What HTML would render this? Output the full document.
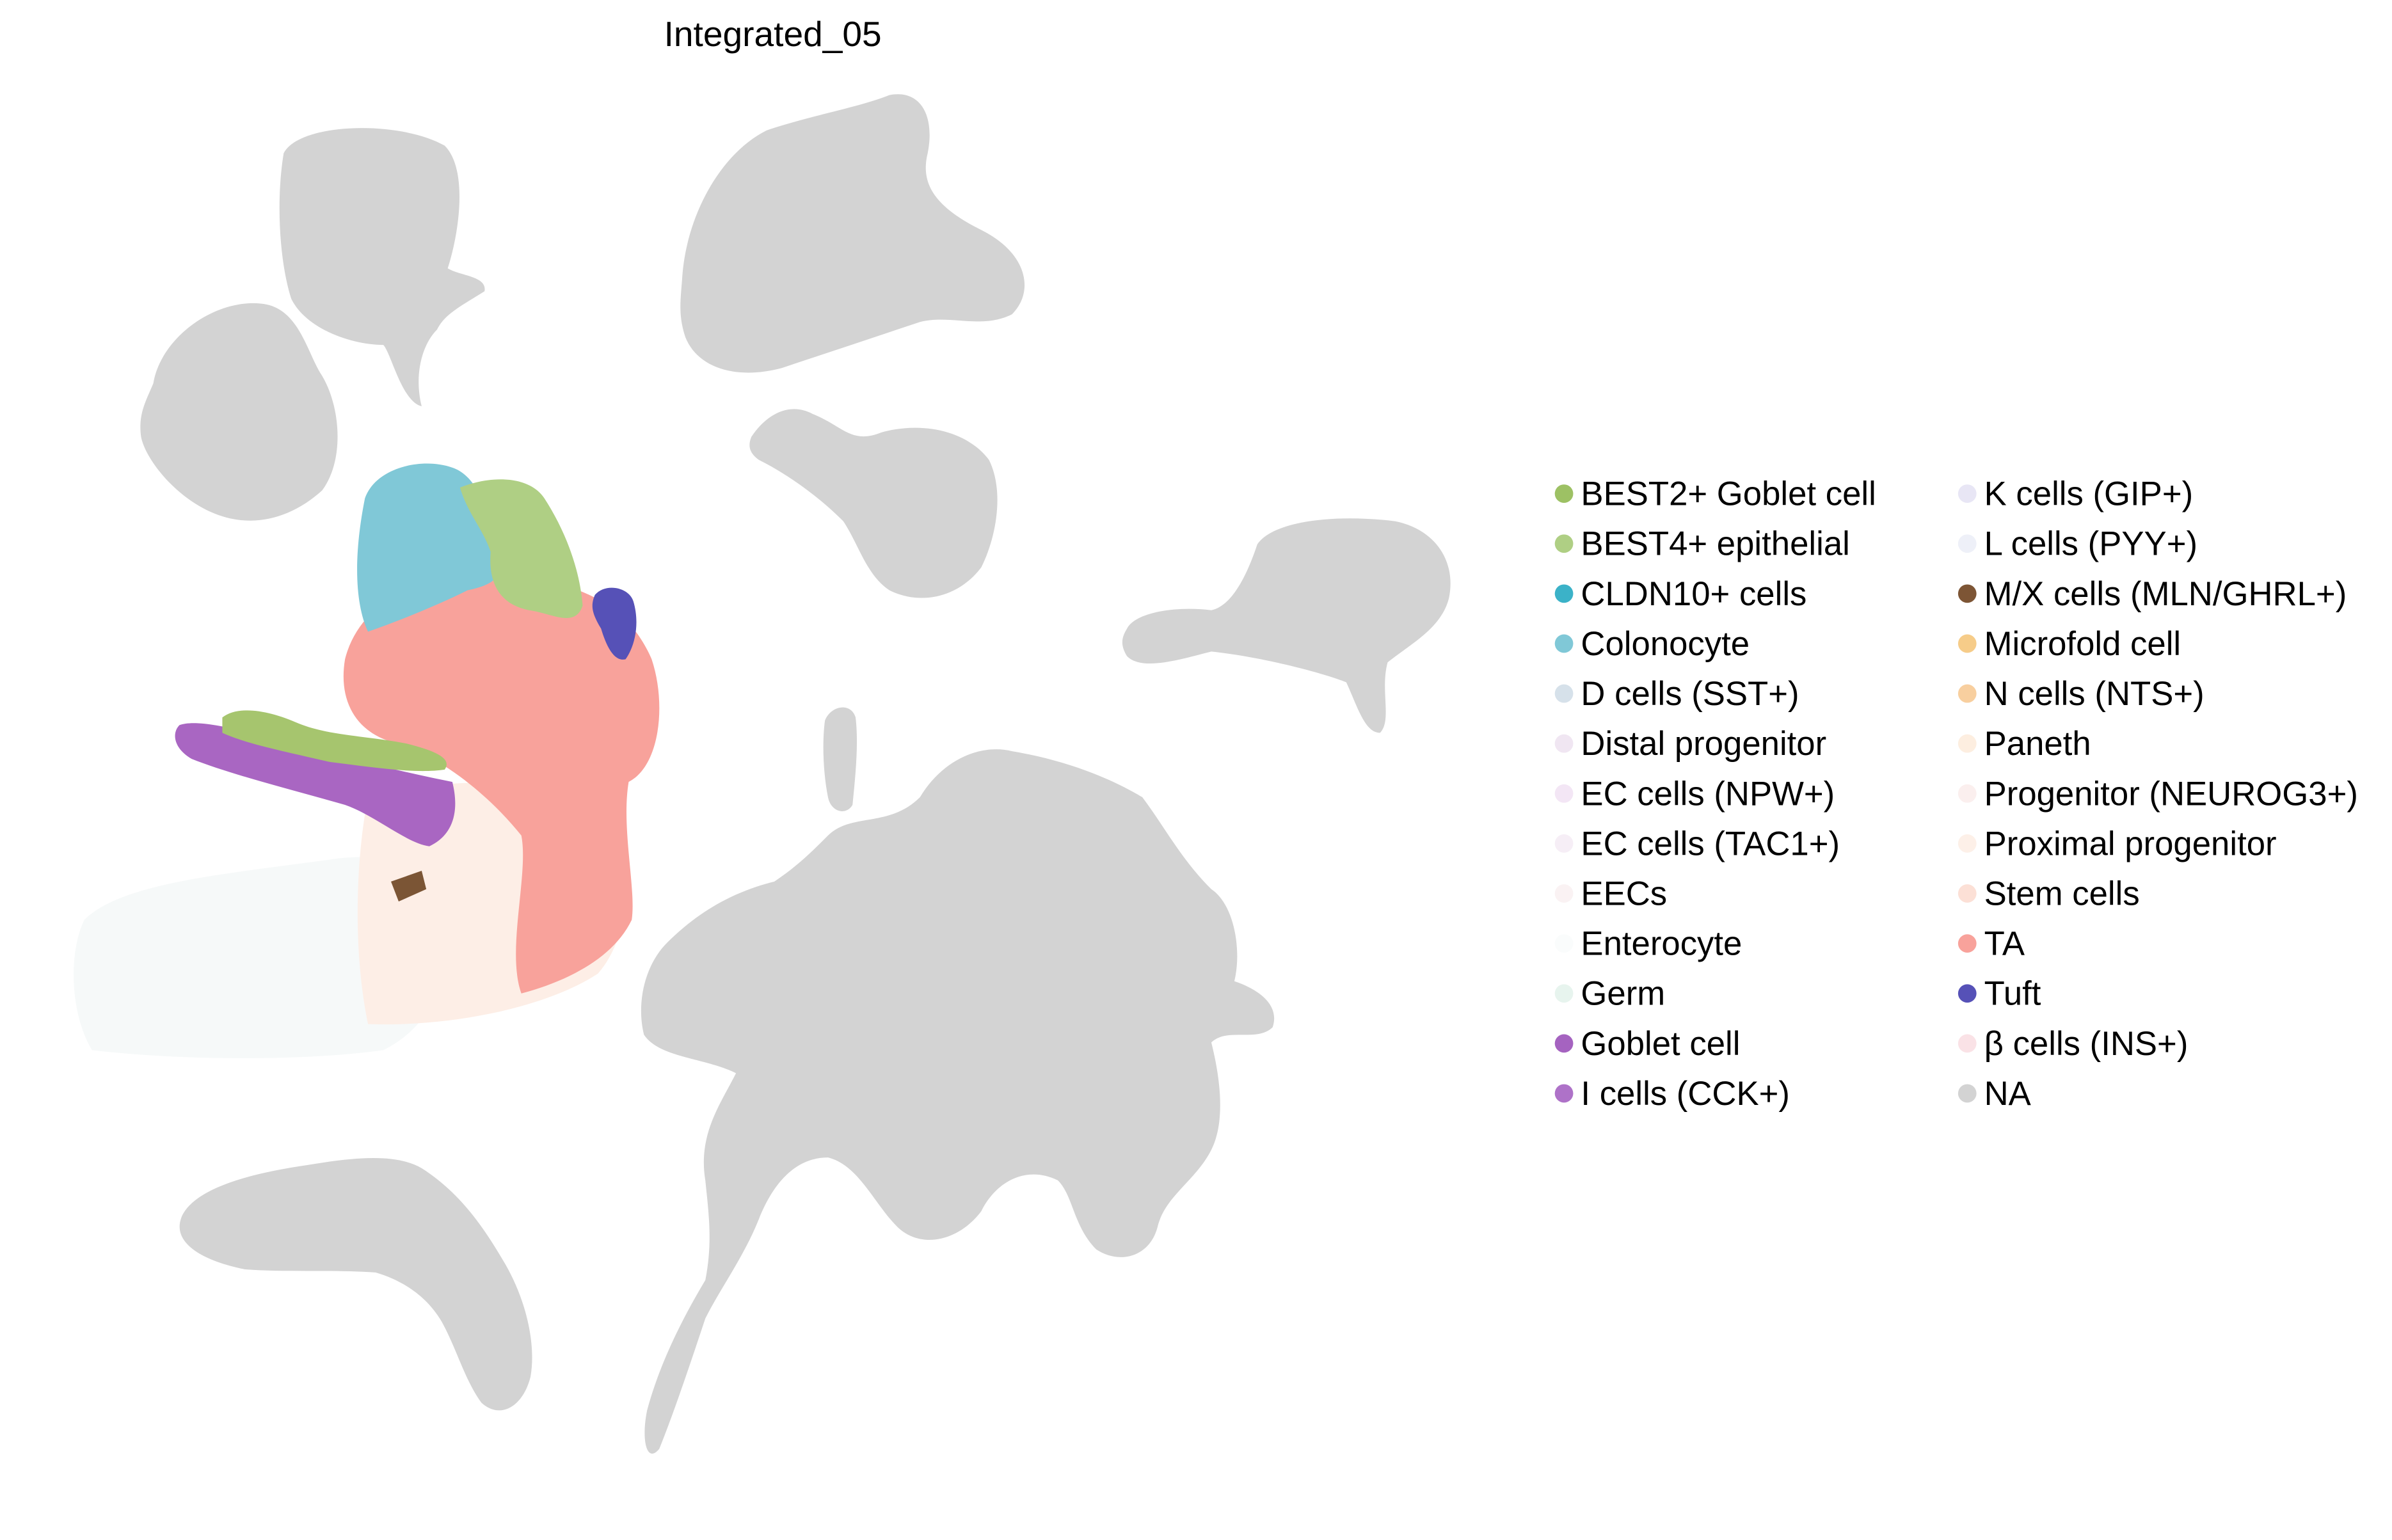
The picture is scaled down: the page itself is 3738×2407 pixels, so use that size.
<!DOCTYPE html>
<html><head><meta charset="utf-8">
<style>
html,body{margin:0;padding:0;background:#fff;}
svg{display:block;}
text{font-family:"Liberation Sans",Arial,sans-serif;}
</style></head>
<body>
<svg id="chart" width="3738" height="2407" viewBox="0 0 1560 1004.5" xmlns="http://www.w3.org/2000/svg">
<rect width="1560" height="1004.5" fill="#ffffff"/>
<text x="504" y="30" font-size="23" text-anchor="middle" fill="#000">Integrated_05</text>
<g id="na-blobs" fill="#d3d3d3">
  <path d="M185,100 C195,80 260,78 290,95 C305,110 300,150 292,175 C300,180 318,180 316,190 C300,200 290,205 285,215 C275,225 270,245 275,265 C262,262 255,230 250,225 C230,225 200,215 190,195 C182,170 180,130 185,100Z"/>
  <path d="M100,250 C105,220 140,195 170,198 C195,200 200,230 210,245 C222,265 225,300 210,320 C190,338 165,345 140,335 C115,325 95,300 92,285 C90,270 95,262 100,250Z"/>
  <path d="M445,180 C448,140 470,100 500,85 C530,75 560,70 580,62 C600,58 610,75 605,100 C600,120 610,135 640,150 C670,165 675,190 660,205 C640,215 620,205 600,210 C570,220 540,230 510,240 C480,248 455,240 447,220 C442,205 444,195 445,180Z"/>
  <path d="M490,285 C500,270 515,262 530,270 C550,278 555,290 575,282 C600,275 630,280 645,300 C655,320 650,350 640,370 C625,390 600,395 580,385 C565,375 560,355 550,340 C535,325 515,310 495,300 C488,295 488,290 490,285Z"/>
  <path d="M735,410 C740,400 765,395 790,398 C805,395 815,370 820,355 C830,340 870,335 910,340 C935,345 950,365 945,390 C940,410 920,420 905,432 C900,450 908,470 900,478 C890,478 885,460 878,445 C860,438 820,428 790,425 C770,430 745,438 735,428 C730,420 732,415 735,410Z"/>
  <path d="M540,545 C555,530 580,540 600,520 C615,495 640,485 660,490 C690,495 720,505 745,520 C760,540 770,560 790,580 C805,590 810,620 805,640 C820,645 835,655 830,670 C820,680 800,670 790,680 C795,700 800,730 790,750 C780,770 760,780 755,800 C750,820 730,825 715,815 C700,800 700,780 690,770 C670,760 650,770 640,790 C625,810 600,815 585,800 C570,785 560,760 540,755 C520,755 505,770 495,795 C485,820 470,840 460,860 C450,890 440,920 430,945 C422,955 418,940 422,920 C430,890 445,860 460,835 C465,810 462,790 460,770 C455,740 470,720 480,700 C460,690 430,690 420,675 C415,655 420,630 435,615 C460,590 485,580 505,575 C520,565 530,555 540,545Z"/>
  <path d="M118,795 C125,775 165,765 200,760 C230,755 258,752 275,762 C300,778 315,800 328,822 C342,845 350,875 346,898 C341,918 326,926 314,915 C303,900 298,880 288,862 C278,845 262,835 245,830 C215,828 185,830 160,828 C130,822 113,810 118,795Z"/>
  <path d="M538,470 C542,460 555,458 558,468 C560,485 558,505 556,525 C552,532 542,530 540,520 C537,505 536,485 538,470Z"/>
</g>
<g id="clusters">
  <path fill="#f6f9f9" d="M55,600 C80,575 150,570 220,560 C260,555 280,570 290,600 C295,640 280,670 250,685 C200,692 120,692 60,685 C45,660 45,620 55,600Z"/>
  <path fill="#fdeee6" d="M240,520 C290,505 360,510 400,520 C415,560 412,610 390,635 C360,655 300,670 240,668 C230,620 232,560 240,520Z"/>
  <path fill="#f8a29b" d="M225,430 C235,390 280,370 330,375 C380,380 410,395 425,430 C435,460 430,500 410,510 C405,540 415,580 412,600 C400,625 370,640 340,648 C330,620 345,570 340,545 C320,520 290,495 260,485 C235,480 220,460 225,430Z"/>
  <path fill="#80c8d7" d="M238,325 C245,305 275,298 295,305 C310,310 318,330 320,350 C330,370 330,380 305,385 C285,395 260,405 240,412 C232,395 230,365 238,325Z"/>
  <path fill="#afcf84" d="M300,318 C320,310 345,310 355,325 C368,345 378,370 380,395 C375,410 360,400 345,398 C330,395 318,385 320,360 C315,345 305,335 300,318Z"/>
  <path fill="#5651b7" d="M388,388 C395,380 410,383 413,392 C417,405 415,420 408,430 C400,432 395,420 392,410 C386,400 385,395 388,388Z"/>
  <path fill="#a966c2" d="M117,473 C130,468 165,478 200,488 C240,498 270,505 295,510 C300,530 295,545 280,552 C265,550 245,532 225,525 C190,515 150,505 125,495 C113,488 112,478 117,473Z"/>
  <path fill="#a6c56e" d="M145,468 C155,460 175,463 195,472 C215,480 240,480 265,485 C285,490 295,495 290,502 C270,505 240,500 215,497 C185,490 160,485 145,478Z"/>
  <path fill="#7b5535" d="M255,575 L275,568 L278,580 L260,588Z"/>
</g>
<g id="legend"></g>
<script>
const categories = ["BEST2+ Goblet cell","BEST4+ epithelial","CLDN10+ cells","Colonocyte","D cells (SST+)","Distal progenitor","EC cells (NPW+)","EC cells (TAC1+)","EECs","Enterocyte","Germ","Goblet cell","I cells (CCK+)","K cells (GIP+)","L cells (PYY+)","M/X cells (MLN/GHRL+)","Microfold cell","N cells (NTS+)","Paneth","Progenitor (NEUROG3+)","Proximal progenitor","Stem cells","TA","Tuft","β cells (INS+)","NA"];
const colors = ["#9dc164","#afcf84","#3bb2c8","#80c8d7","#d6e1ea","#f0e6f2","#f3e6f5","#f6eef6","#faf2f3","#fafcfc","#e7f4ee","#a563c0","#ae72c8","#e8e6f5","#eef0f8","#7d5535","#f6cc89","#f8cf9f","#fdeee0","#fbefee","#fdf0e8","#fce0d6","#f8a29b","#5651b7","#fae2e6","#d3d3d3"];
const ns = "http://www.w3.org/2000/svg";
const lg = document.getElementById("legend");
const perCol = 13, rowH = 32.6, y0 = 322, colX = [1020, 1283];
categories.forEach((c, i) => {
  const col = Math.floor(i / perCol), row = i % perCol;
  const y = y0 + row * rowH;
  const g = document.createElementNS(ns, "g");
  
  
  const dot = document.createElementNS(ns, "circle");
  
  
  dot.setAttribute("cx", colX[col]); dot.setAttribute("cy", y);
  dot.setAttribute("r", 6); dot.setAttribute("fill", colors[i]);
  const t = document.createElementNS(ns, "text");
  
  
  t.setAttribute("x", colX[col] + 11); t.setAttribute("y", y + 7.5);
  t.setAttribute("font-size", "22"); t.setAttribute("fill", "#000");
  t.textContent = c;
  g.appendChild(dot); g.appendChild(t); lg.appendChild(g);
});
</script>
</svg>
</body></html>
